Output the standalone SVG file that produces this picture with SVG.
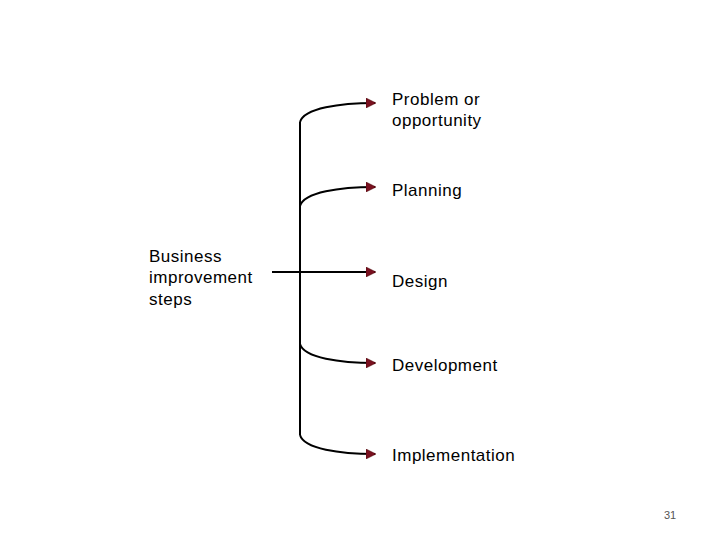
<svg xmlns="http://www.w3.org/2000/svg" width="720" height="540" viewBox="0 0 720 540">
<style>
text{font-family:"Liberation Sans",Arial,sans-serif;font-size:17px;letter-spacing:0.5px;fill:#000}
.c{fill:none;stroke:#000;stroke-width:2}
</style>
<defs><marker id="a" markerWidth="10" markerHeight="10" refX="9" refY="5" orient="auto" markerUnits="userSpaceOnUse"><path d="M0,0 L10,5 L0,10 Z" fill="#7a1020" stroke="#400" stroke-width="0.5"/></marker></defs>
<rect width="720" height="540" fill="#fff"/>
<g id="connectors">
<path class="c" d="M300,435 L300,122"/>
<path class="c" d="M300,122 C304,108 340,103 375,103" marker-end="url(#a)"/>
<path class="c" d="M300,206 C304,192 340,187 375,187" marker-end="url(#a)"/>
<path class="c" d="M272,272 L375,272" marker-end="url(#a)"/>
<path class="c" d="M300,344 C304,358 340,363 375,363" marker-end="url(#a)"/>
<path class="c" d="M300,435 C304,449 340,454 375,454" marker-end="url(#a)"/>
</g>
<g id="root"><text x="149" y="262">Business</text><text x="149" y="283">improvement</text><text x="149" y="305">steps</text></g>
<g id="n1"><text x="392" y="105">Problem or</text><text x="392" y="126">opportunity</text></g>
<g id="n2"><text x="392" y="196">Planning</text></g>
<g id="n3"><text x="392" y="287">Design</text></g>
<g id="n4"><text x="392" y="371">Development</text></g>
<g id="n5"><text x="392" y="461">Implementation</text></g>
<text x="664" y="519" style="font-size:11px;letter-spacing:0;fill:#555">31</text>
</svg>
